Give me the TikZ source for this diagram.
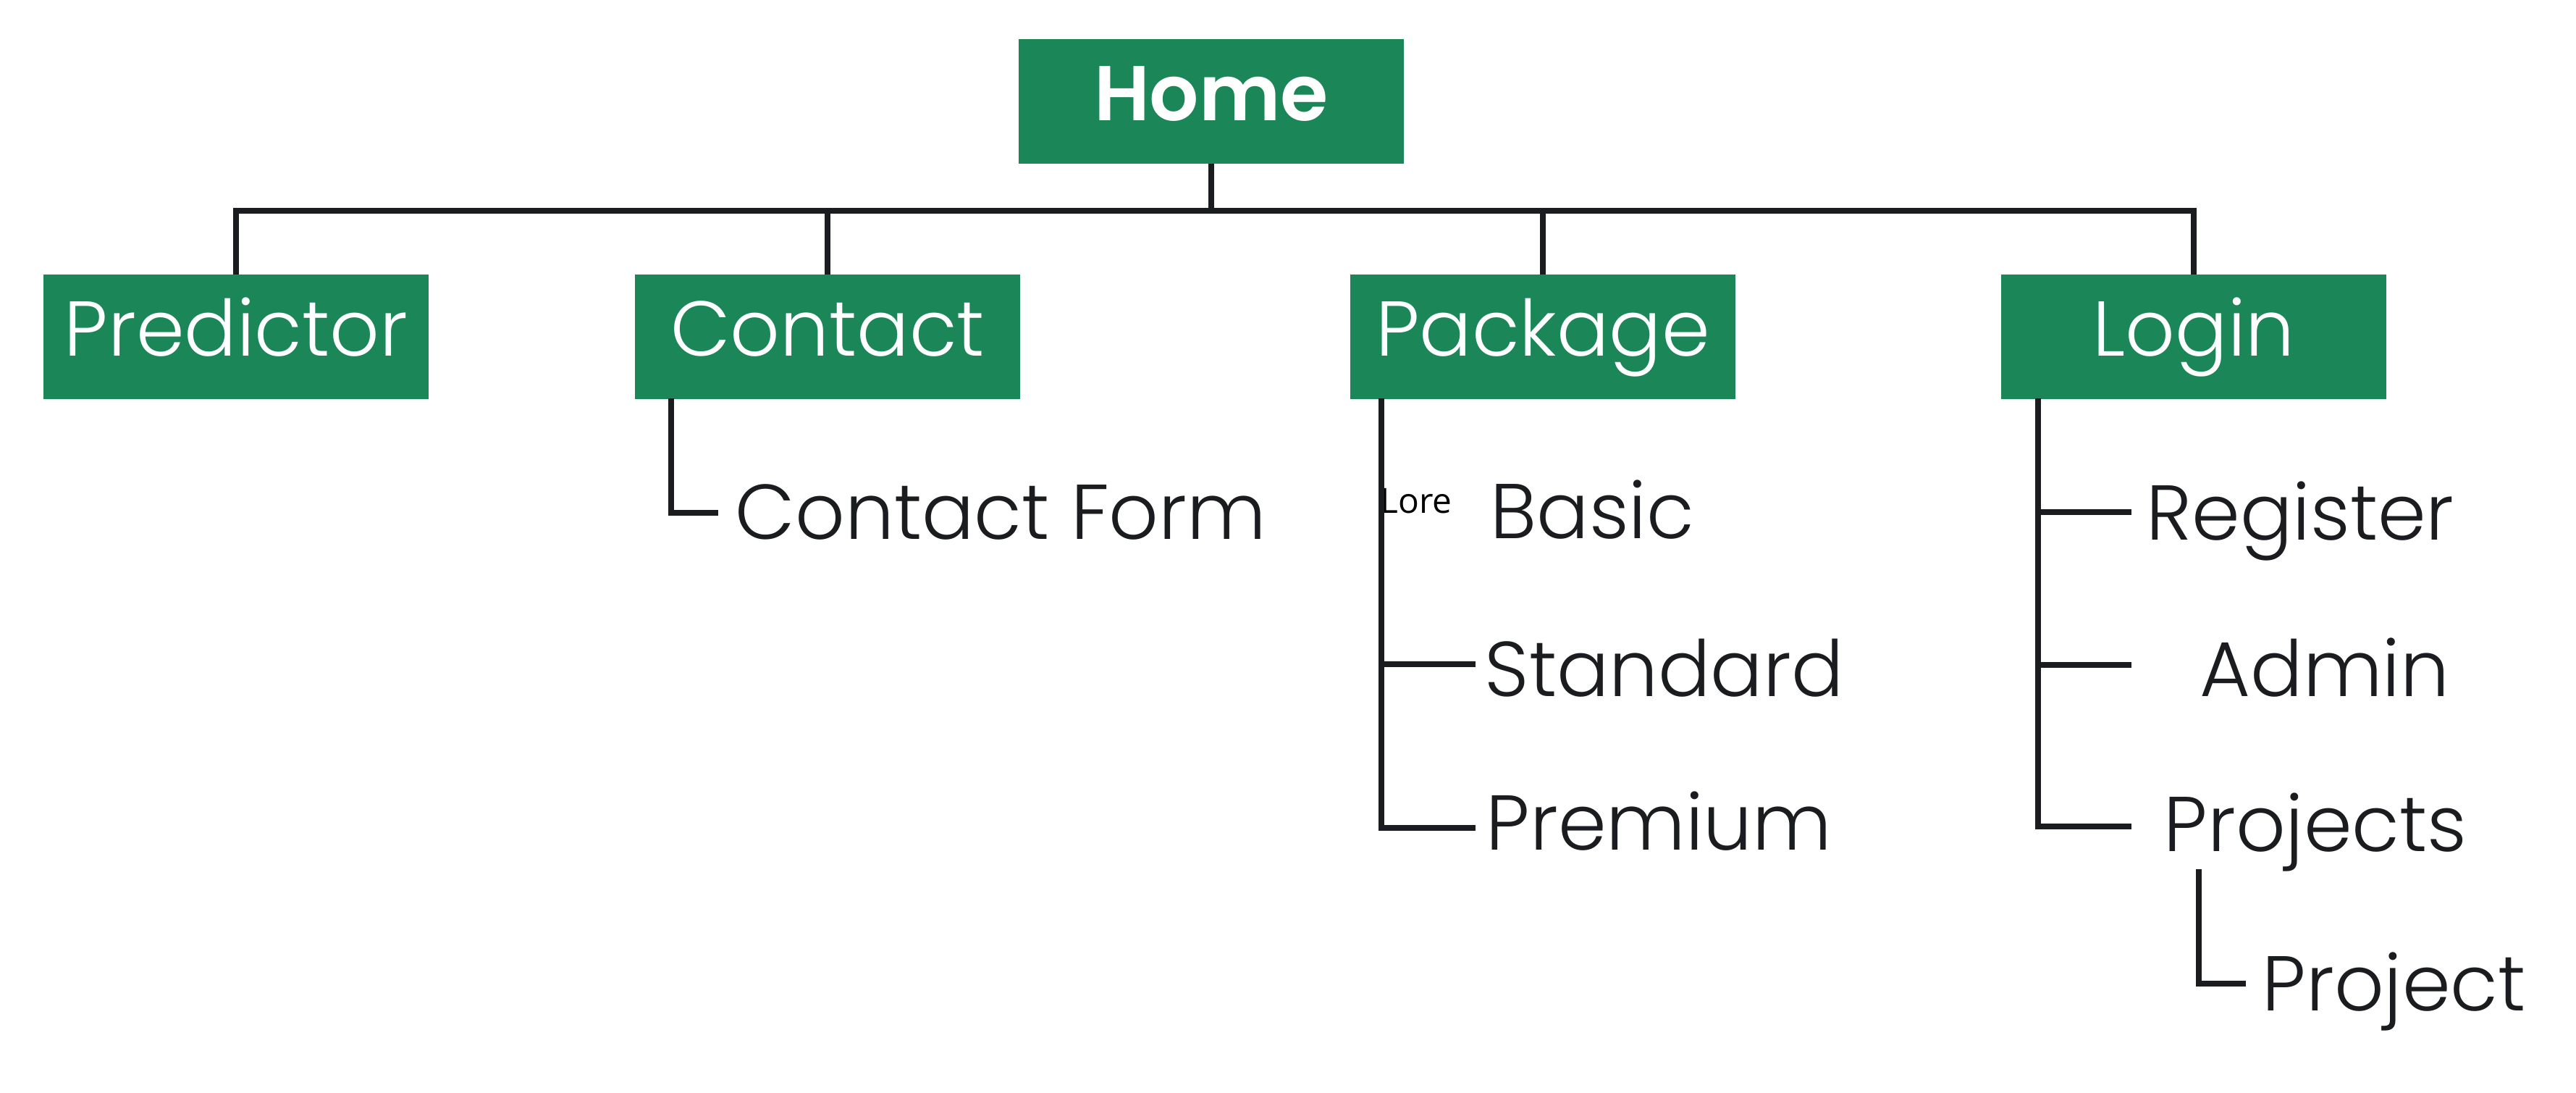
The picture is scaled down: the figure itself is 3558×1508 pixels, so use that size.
\documentclass[tikz,border=0pt]{standalone}
\usepackage{fontspec}
\setmainfont{Poppins}[UprightFont=* Light, BoldFont=* SemiBold]
\newfontfamily\lorefont{Open Sans}
\usetikzlibrary{positioning}
\definecolor{sitegreen}{RGB}{27,135,88}
\definecolor{inkdark}{RGB}{26,28,31}
\tikzset{
pagebox/.style={ % Green boxes for the main pages
fill=sitegreen,
text=white,
inner sep=0pt,
minimum width=5.31cm,
minimum height=1.71cm,
text height=0.8cm,
text depth=0.27cm,
font=\fontsize{30.5}{36}\selectfont},
subpage/.style={ % Plain text for the sub pages
text=inkdark,
inner sep=0pt,
anchor=base west,
font=\fontsize{30.5}{36}\selectfont},
link/.style={ % Tree connectors
draw=inkdark,
line width=2.25pt}}

\begin{document}
\begin{tikzpicture}[x=0.01cm, y=-0.01cm]
\useasboundingbox (0,0) rectangle (3558,1508);
% main pages
\node[pagebox, font=\fontsize{30.5}{36}\selectfont\bfseries] (home) at (1673,140) {Home};
\node[pagebox] (predictor) at (326,465) {Predictor};
\node[pagebox] (contact) at (1143,465) {Contact};
\node[pagebox] (package) at (2131,465) {Package};
\node[pagebox] (login) at (3030,465) {Login};
% sub pages
\node[subpage] (form) at (1015,744) {Contact Form};
\node[subpage] (basic) at (2058,743) {Basic};
\node[subpage] (standard) at (2050,961) {Standard};
\node[subpage] (premium) at (2052,1173) {Premium};
\node[subpage] (register) at (2964,745) {Register};
\node[subpage] (admin) at (3038,961) {Admin};
\node[subpage] (projects) at (2988,1175) {Projects};
\node[subpage] (project) at (3124,1395) {Project};
\node[inner sep=0pt, anchor=base west, text=black, font=\lorefont\fontsize{13.6}{16}\selectfont] (lore) at (1906,708) {Lore};
% joints and line ends
\coordinate (bar) at (1673,291);
\coordinate (contact-trunk) at (927,550);
\coordinate (package-trunk) at (1908,550);
\coordinate (login-trunk) at (2815,550);
\coordinate (projects-trunk) at (3037,1200);
\coordinate (form-end) at (992,708);
\coordinate (standard-end) at (2038,917);
\coordinate (premium-end) at (2038,1143);
\coordinate (register-end) at (2944,707);
\coordinate (admin-end) at (2944,918);
\coordinate (projects-end) at (2944,1141);
\coordinate (project-end) at (3102,1358);
% connectors
\draw[link] (home.south) -- (bar);
\draw[link] (predictor.north) |- (bar) -| (login.north);
\draw[link] (contact.north) -- (contact.north |- bar);
\draw[link] (package.north) -- (package.north |- bar);
\draw[link] (contact-trunk) |- (form-end);
\draw[link] (package-trunk) |- (premium-end);
\draw[link] (package-trunk |- standard-end) -- (standard-end);
\draw[link] (login-trunk) |- (projects-end);
\draw[link] (login-trunk |- register-end) -- (register-end);
\draw[link] (login-trunk |- admin-end) -- (admin-end);
\draw[link] (projects-trunk) |- (project-end);
\end{tikzpicture}
\end{document}
